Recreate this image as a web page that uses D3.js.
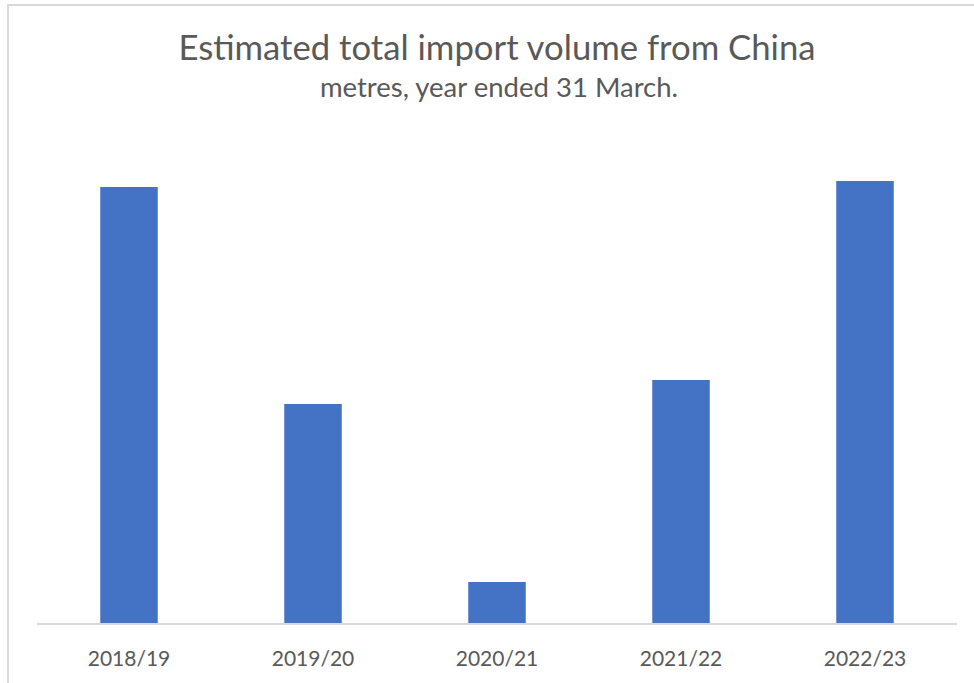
<!DOCTYPE html>
<html>
<head>
<meta charset="utf-8">
<script src="https://cdn.jsdelivr.net/npm/d3@7"></script>
<style>
  html, body { margin: 0; padding: 0; background: #fff; }
  svg { display: block; }
</style>
</head>
<body>
<svg id="chart" width="974" height="683"></svg>
<script>
const categories = ["2018/19", "2019/20", "2020/21", "2021/22", "2022/23"];
const values = [437, 220, 42, 244, 443];
const titleText = "Estimated total import volume from China";
const subtitleText = "metres, year ended 31 March.";

const svg = d3.select("#chart");
const W = 974, H = 683;
const font = "Lato, 'Open Sans', sans-serif";
const textColor = "#595959";

svg.append("rect").attr("width", W).attr("height", H).attr("fill", "#fff");

// outer border (top and left visible)
svg.append("path")
  .attr("d", `M8,${H} L8,5 L${W},5`)
  .attr("fill", "none")
  .attr("stroke", "#d9d9d9")
  .attr("stroke-width", 2);

const x = d3.scaleBand()
  .domain(categories)
  .range([37, 957])
  .paddingInner(0.6875)
  .paddingOuter(0.34375);

const y = d3.scaleLinear()
  .domain([0, 500])
  .range([624, 124]);

svg.append("g")
  .selectAll("rect")
  .data(categories)
  .join("rect")
  .attr("x", d => x(d))
  .attr("width", x.bandwidth())
  .attr("y", (d, i) => y(values[i]))
  .attr("height", (d, i) => y(0) - y(values[i]))
  .attr("fill", "#4472C4");

const xAxis = svg.append("g")
  .attr("transform", `translate(0,${y(0)})`)
  .call(d3.axisBottom(x).tickSize(0).tickPadding(0).tickSizeOuter(0));
xAxis.select(".domain").attr("stroke", "#d9d9d9").attr("stroke-width", 2)
  .attr("d", `M37,0H957`);
xAxis.selectAll("text")
  .attr("y", 42)
  .attr("dy", 0)
  .attr("fill", textColor)
  .attr("font-family", font)
  .attr("font-size", 21);

svg.append("text")
  .attr("x", 497).attr("y", 60)
  .attr("text-anchor", "middle")
  .attr("font-family", font)
  .attr("font-size", 34.7)
  .attr("fill", textColor)
  .text(titleText);

svg.append("text")
  .attr("x", 499).attr("y", 97)
  .attr("text-anchor", "middle")
  .attr("font-family", font)
  .attr("font-size", 27.5)
  .attr("fill", textColor)
  .text(subtitleText);
</script>
</body>
</html>
